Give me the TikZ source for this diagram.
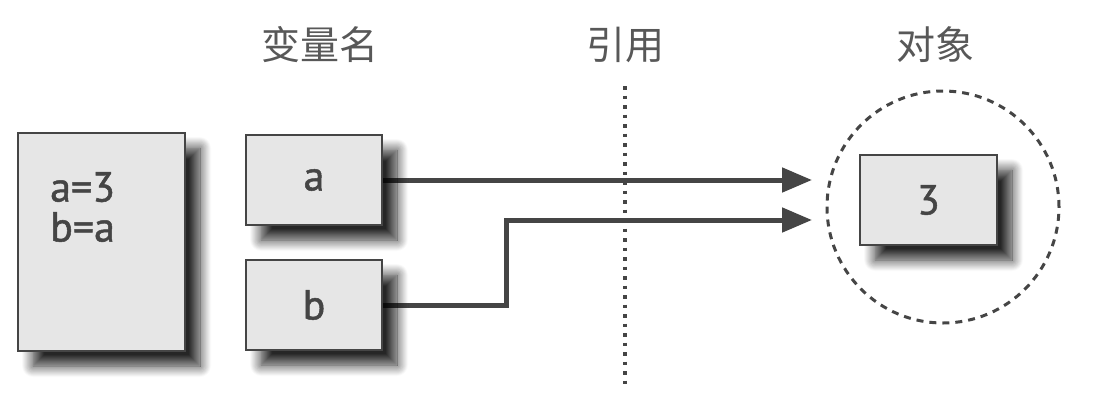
\documentclass[tikz,border=0pt]{standalone}
\usepackage{fontspec}
\setmainfont{PT Sans}
\newfontfamily\boxfont[FakeBold=1.2]{PT Sans}
\newfontfamily\cjk{Noto Sans CJK SC}
\usetikzlibrary{calc}
\usetikzlibrary{arrows.meta,shadows.blur,backgrounds}

\definecolor{boxfill}{HTML}{E6E6E6}
\definecolor{inkgray}{HTML}{454545}

\tikzset{
    boxtext/.style={font=\boxfont\fontsize{42}{40}\selectfont, text=inkgray},
    varbox/.style={draw=inkgray, line width=2pt, fill=boxfill, inner sep=0pt,
        blur shadow={shadow xshift=15pt, shadow yshift=-15pt,
            shadow blur radius=11pt, shadow blur steps=12, shadow opacity=85},
        boxtext},
    headlabel/.style={font=\cjk\fontsize{39}{39}\selectfont, text=inkgray!90},
    refarrow/.style={draw=inkgray, line width=5pt, -{Triangle[length=30pt,width=24pt]}},
}

\begin{document}
\begin{tikzpicture}[x=1pt,y=-1pt]
    \useasboundingbox (0,0) rectangle (1120,405);

    % Define the box sizes
    \def\w{136}  % width of the small boxes
    \def\h{90}   % height of the small boxes

    % Draw the headings
    \node[headlabel] (namelabel) at (320,45) {变量名};
    \node[headlabel] (reflabel) at (625,45) {引用};
    \node[headlabel] (objlabel) at (935,45) {对象};

    % Draw the program, the names and the object
    \node[varbox, minimum width=167pt, minimum height=218pt] (prog) at (101.5,242) {};
    \node[boxtext, align=left, inner sep=0pt, anchor=north west] (progtext) at (50,172) {a=3\\b=a};
    \node[varbox, minimum width=\w pt, minimum height=\h pt] (vara) at (314,180) {a};
    \node[varbox, minimum width=\w pt, minimum height=\h pt] (varb) at (314,305) {b};
    \node[circle, draw=inkgray, line width=3pt, dash pattern=on 7pt off 6pt,
        minimum size=232pt] (objcircle) at (943,207) {};
    \node[varbox, minimum width=137pt, minimum height=\h pt] (obj) at (928.5,200) {3};

    % Calculate the coordinates of the free ends
    \coordinate (enda) at (812,180);
    \coordinate (endb) at (812,220);
    \coordinate (reftop) at (625,86);
    \coordinate (refbot) at (625,385);

    % Draw the references
    \begin{pgfonlayer}{background}
        \draw[refarrow] (vara.east) -- (enda);
        \draw[refarrow] (varb.east) -- ++(123,0) |- (endb);
    \end{pgfonlayer}

    % Draw the border line
    \draw[inkgray, line width=3.5pt, dash pattern=on 3.5pt off 6pt] (reftop) -- (refbot);
\end{tikzpicture}
\end{document}
